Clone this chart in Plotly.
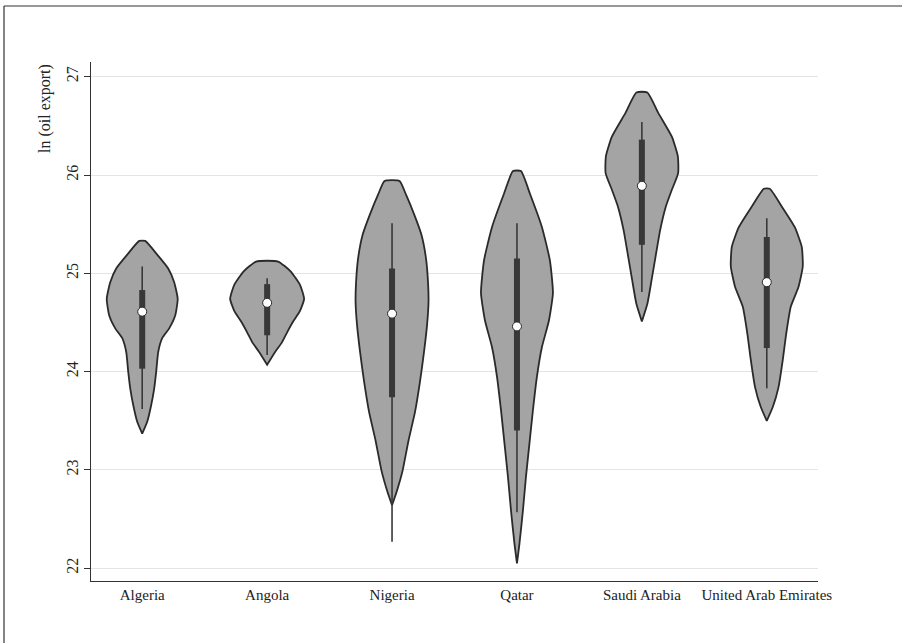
import plotly.graph_objects as go

# ---------------- data ----------------
CATEGORIES = ["Algeria", "Angola", "Nigeria", "Qatar", "Saudi Arabia", "United Arab Emirates"]
Y_TICKS = [22, 23, 24, 25, 26, 27]

# violin outlines: y levels (top -> bottom) and kernel density half-widths (relative units)
ALGERIA_Y = [25.33, 25.19, 25.05, 24.91, 24.74, 24.57, 24.44, 24.34, 24.20, 24.00, 23.83, 23.66, 23.49, 23.37]
ALGERIA_D = [3, 15, 26, 32, 35.5, 33, 27, 20, 16, 14, 12, 9, 5, 0]

ANGOLA_Y = [25.12, 25.02, 24.88, 24.74, 24.61, 24.51, 24.40, 24.30, 24.20, 24.07]
ANGOLA_D = [11, 23.5, 33, 37, 32.5, 26, 20, 15, 8, 0]

NIGERIA_Y = [25.94, 25.80, 25.59, 25.39, 25.15, 24.91, 24.71, 24.47, 24.20, 23.90, 23.59, 23.30, 22.99, 22.79, 22.64]
NIGERIA_D = [7.5, 14, 22.5, 29.5, 34, 36, 36.5, 35, 32, 28, 23, 16.5, 10.5, 5, 0]

QATAR_Y = [26.04, 25.81, 25.47, 25.13, 24.80, 24.52, 24.25, 23.95, 23.61, 23.27, 22.93, 22.59, 22.25, 22.05]
QATAR_D = [4, 13, 25, 33, 36, 32, 25, 20, 16, 12.5, 9, 6, 2.5, 0]

SAUDI_Y = [26.84, 26.63, 26.39, 26.19, 26.02, 25.85, 25.68, 25.44, 25.17, 24.93, 24.69, 24.51]
SAUDI_D = [5.5, 16.5, 30, 36, 36.3, 30, 24, 18.3, 13.7, 9.7, 5.5, 0]

UAE_Y = [25.86, 25.68, 25.47, 25.27, 25.07, 24.86, 24.66, 24.39, 24.12, 23.84, 23.64, 23.50]
UAE_D = [3, 15, 28, 35, 36, 31.7, 24, 19.5, 16, 11.7, 6, 0]

# box statistics per country
WHISKER_LOW = [23.62, 24.17, 22.27, 22.57, 24.81, 23.83]
Q1 = [24.03, 24.37, 23.74, 23.40, 25.29, 24.24]
MEDIAN = [24.61, 24.70, 24.59, 24.46, 25.89, 24.91]
Q3 = [24.83, 24.89, 25.05, 25.15, 26.36, 25.37]
WHISKER_HIGH = [25.07, 24.95, 25.51, 25.51, 26.54, 25.56]

OUTLINES_Y = [ALGERIA_Y, ANGOLA_Y, NIGERIA_Y, QATAR_Y, SAUDI_Y, UAE_Y]
OUTLINES_D = [ALGERIA_D, ANGOLA_D, NIGERIA_D, QATAR_D, SAUDI_D, UAE_D]

# ---------------- style ----------------
WIDTH_SCALE = 1 / 125.0     # density unit -> x-axis unit
FONT = "Liberation Serif"
FILL = "#a4a4a4"
EDGE = "#2a2a2a"
BOXC = "#383838"

fig = go.Figure()

for i, (ys, ds) in enumerate(zip(OUTLINES_Y, OUTLINES_D)):
    left_x = [i - d * WIDTH_SCALE for d in ds]
    right_x = [i + d * WIDTH_SCALE for d in ds]
    px = left_x + right_x[::-1] + [left_x[0]]
    py = ys + ys[::-1] + [ys[0]]
    fig.add_trace(go.Scatter(x=px, y=py, mode="lines", fill="toself",
                             fillcolor=FILL,
                             line=dict(color=EDGE, width=1.8, shape="spline", smoothing=0.5),
                             hoverinfo="skip", showlegend=False))

for i in range(len(CATEGORIES)):
    fig.add_trace(go.Scatter(x=[i, i], y=[WHISKER_LOW[i], WHISKER_HIGH[i]], mode="lines",
                             line=dict(color=BOXC, width=1.6), showlegend=False, hoverinfo="skip"))
    fig.add_trace(go.Scatter(x=[i, i], y=[Q1[i], Q3[i]], mode="lines",
                             line=dict(color=BOXC, width=6), showlegend=False, hoverinfo="skip"))

fig.add_trace(go.Scatter(x=list(range(len(CATEGORIES))), y=MEDIAN, mode="markers",
                         marker=dict(symbol="circle", size=9, color="white",
                                     line=dict(color=EDGE, width=1)),
                         showlegend=False))

# plot area in pixels: left 91, right 818, top 62, bottom 581
PL, PR, PT, PB = 91, 818, 62, 581
pw, ph = PR - PL, PB - PT

def px_x(x):
    return (x - PL) / pw

def px_y(y):
    return (PB - y) / ph

fig.update_layout(
    width=902, height=643,
    margin=dict(l=PL, r=902 - PR, t=PT, b=643 - PB),
    paper_bgcolor="white", plot_bgcolor="white",
    font=dict(family=FONT, color="#222222", size=15),
    xaxis=dict(range=[-0.41, 5.41], tickmode="array",
               tickvals=list(range(len(CATEGORIES))), ticktext=CATEGORIES,
               showgrid=False, zeroline=False, showline=True, linecolor="#333333",
               linewidth=1, ticks="", tickfont=dict(family=FONT, size=15)),
    yaxis=dict(range=[21.87, 27.15], tickmode="array", tickvals=Y_TICKS,
               ticktext=[str(t) for t in Y_TICKS], tickangle=-90,
               showgrid=True, gridcolor="#e4e4e4", gridwidth=1, zeroline=False,
               showline=True, linecolor="#333333", linewidth=1,
               ticks="outside", ticklen=6, tickcolor="#333333",
               tickfont=dict(family=FONT, size=16)),
    shapes=[
        dict(type="line", xref="paper", yref="paper",
             x0=px_x(4), x1=px_x(4), y0=px_y(643), y1=px_y(6),
             line=dict(color="#333333", width=1.2)),
        dict(type="line", xref="paper", yref="paper",
             x0=px_x(4), x1=px_x(902), y0=px_y(6), y1=px_y(6),
             line=dict(color="#333333", width=1.2)),
    ],
    annotations=[
        dict(text="ln (oil export)", xref="paper", yref="paper",
             x=px_x(45), y=px_y(108), textangle=-90, showarrow=False,
             xanchor="center", yanchor="middle",
             font=dict(family=FONT, size=16, color="#222222")),
    ],
)

fig.write_html("out.html", config={"displayModeBar": False},
               post_script="document.body.style.margin='0';")
